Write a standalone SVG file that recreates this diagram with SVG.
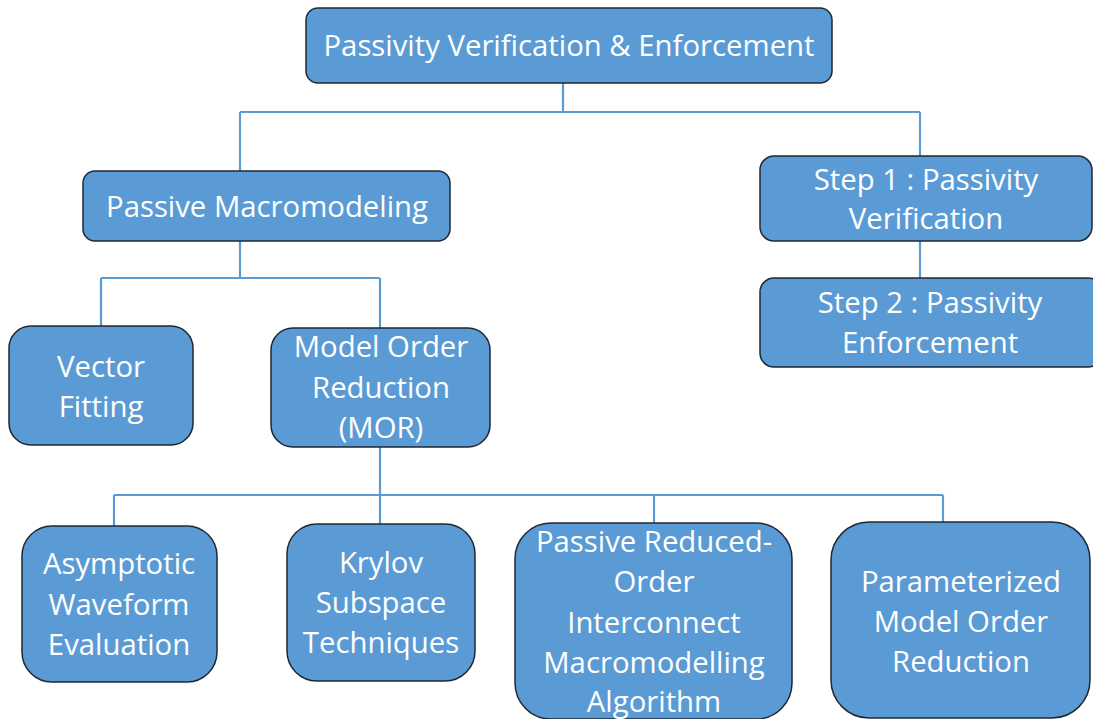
<svg xmlns="http://www.w3.org/2000/svg" width="1093" height="719" viewBox="0 0 1093 719">
<style>
.box{fill:#5b9bd5;stroke:#1e2833;stroke-width:1.5}
.t{fill:#ffffff;font-family:"Open Sans","Liberation Sans",sans-serif;font-size:29.3px;text-anchor:middle}
.c{fill:none;stroke:#5b9bd5;stroke-width:2.2}
</style>
<rect width="1093" height="719" fill="#ffffff"/>
<g id="connectors">
<path class="c" d="M563 83V112M240 112H920M240 112V171M920 112V156"/>
<path class="c" d="M920 241V278"/>
<path class="c" d="M240 241V278M101 278H380M101 278V326M380 278V328"/>
<path class="c" d="M380 447V524M114 495H943M114 495V526M654 495V523M943 495V522"/>
</g>
<g id="n-root"><rect class="box" x="306" y="8" width="526" height="75" rx="12"/><text class="t" x="569" y="56">Passivity Verification &amp; Enforcement</text></g>
<g id="n-pm"><rect class="box" x="83" y="171" width="367" height="70" rx="12"/><text class="t" x="267" y="217">Passive Macromodeling</text></g>
<g id="n-step1"><rect class="box" x="760" y="156" width="332" height="85" rx="14"/><text class="t" x="926" y="190">Step 1 : Passivity</text><text class="t" x="926" y="229">Verification</text></g>
<g id="n-step2"><rect class="box" x="760" y="278" width="342" height="89" rx="14"/><text class="t" x="930" y="313">Step 2 : Passivity</text><text class="t" x="930" y="353">Enforcement</text></g>
<g id="n-vf"><rect class="box" x="9" y="326" width="184" height="119" rx="22"/><text class="t" x="101" y="377">Vector</text><text class="t" x="101" y="417">Fitting</text></g>
<g id="n-mor"><rect class="box" x="271" y="328" width="219" height="119" rx="22"/><text class="t" x="381" y="357">Model Order</text><text class="t" x="381" y="398">Reduction</text><text class="t" x="381" y="438">(MOR)</text></g>
<g id="n-awe"><rect class="box" x="22" y="526" width="195" height="156" rx="30"/><text class="t" x="119" y="574">Asymptotic</text><text class="t" x="119" y="615">Waveform</text><text class="t" x="119" y="655">Evaluation</text></g>
<g id="n-krylov"><rect class="box" x="287" y="524" width="188" height="157" rx="30"/><text class="t" x="381" y="573">Krylov</text><text class="t" x="381" y="613">Subspace</text><text class="t" x="381" y="653">Techniques</text></g>
<g id="n-prima"><rect class="box" x="515" y="523" width="277" height="196" rx="36"/><text class="t" x="654" y="552">Passive Reduced-</text><text class="t" x="654" y="592">Order</text><text class="t" x="654" y="633">Interconnect</text><text class="t" x="654" y="673">Macromodelling</text><text class="t" x="654" y="712">Algorithm</text></g>
<g id="n-pmor"><rect class="box" x="831" y="522" width="259" height="196" rx="38"/><text class="t" x="961" y="592">Parameterized</text><text class="t" x="961" y="632">Model Order</text><text class="t" x="961" y="672">Reduction</text></g>
</svg>
